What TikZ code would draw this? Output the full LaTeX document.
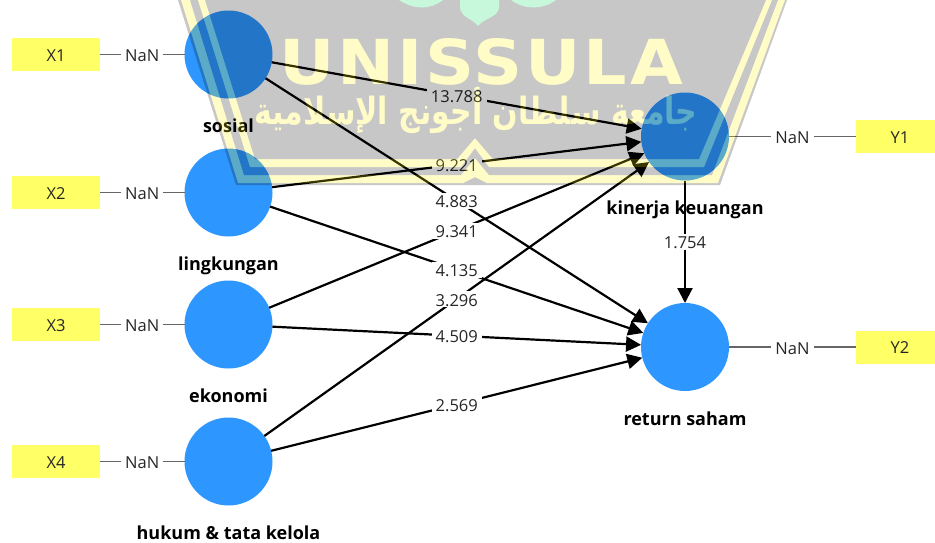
\documentclass[tikz,border=0pt]{standalone}
\usepackage{fontspec}
\setmainfont{Open Sans}
\newfontfamily\bannerfont[LetterSpace=4]{DejaVu Sans}
\newfontfamily\arabicfont[Script=Arabic]{DejaVu Sans}
\TeXXeTstate=1
\usetikzlibrary{positioning, arrows.meta}
\definecolor{lvblue}{HTML}{2E96FF}
\definecolor{itemyellow}{HTML}{FFFF66}
\definecolor{logogreen}{RGB}{0,225,90}
\tikzset{
  lv/.style={circle, fill=lvblue, minimum size=88pt, inner sep=0pt, outer sep=0pt},
  item/.style={rectangle, fill=itemyellow, minimum width=88pt, minimum height=33pt, inner sep=0pt, outer sep=0pt, font=\fontsize{16.5}{16.5}\selectfont, text height=13.5pt, text depth=0pt, text=black!85},
  lvname/.style={font=\bfseries\fontsize{18}{18}\selectfont, text height=13pt, text depth=2pt, inner sep=0pt},
  path/.style={line width=2.2pt, -{Triangle[length=15pt,width=15pt]}},
  load/.style={line width=1.4pt, black!60},
  val/.style={fill=white, inner xsep=4pt, inner ysep=1pt, font=\fontsize{16.5}{16.5}\selectfont, text height=14pt, text depth=0pt, text=black!85},
  shieldy/.style={fill=yellow},
  shieldk/.style={fill=black}
}
\begin{document}
\begin{tikzpicture}[x=1pt, y=-1pt]
  \useasboundingbox (0,0) rectangle (935,542);
  \clip (0,0) rectangle (935,542);

  % Constructs
  \node[lv] (sosial) at (228.5,54.5) {};
  \node[lv] (lingkungan) at (228.5,192.5) {};
  \node[lv] (ekonomi) at (228.5,324.5) {};
  \node[lv] (hukum) at (228.5,461.5) {};
  \node[lv] (kinerja) at (685,136.5) {};
  \node[lv] (retur) at (685,347) {};

  \node[lvname, yshift=-72.5pt] (sosialname) at (sosial) {sosial};
  \node[lvname, yshift=-72.5pt] (lingkunganname) at (lingkungan) {lingkungan};
  \node[lvname, yshift=-72.5pt] (ekonominame) at (ekonomi) {ekonomi};
  \node[lvname, yshift=-72.5pt] (hukumname) at (hukum) {hukum \& tata kelola};
  \node[lvname, yshift=-72.5pt] (kinerjaname) at (kinerja) {kinerja keuangan};
  \node[lvname, yshift=-72.5pt] (returname) at (retur) {return saham};

  % Indicators
  \node[item] (x1) at (56,54.5) {X1};
  \node[item] (x2) at (56,192.5) {X2};
  \node[item] (x3) at (56,324.5) {X3};
  \node[item] (x4) at (56,461.5) {X4};
  \node[item] (y1) at (900,136.5) {Y1};
  \node[item] (y2) at (900,347) {Y2};

  \draw[load] (x1) -- node[val] {NaN} (sosial);
  \draw[load] (x2) -- node[val] {NaN} (lingkungan);
  \draw[load] (x3) -- node[val] {NaN} (ekonomi);
  \draw[load] (x4) -- node[val] {NaN} (hukum);
  \draw[load] (kinerja) -- node[val] {NaN} (y1);
  \draw[load] (retur) -- node[val] {NaN} (y2);

  % Paths
  \draw[path] (sosial) -- node[val] {13.788} (kinerja);
  \draw[path] (sosial) -- node[val] {4.883} (retur);
  \draw[path] (lingkungan) -- node[val] {9.221} (kinerja);
  \draw[path] (lingkungan) -- node[val] {4.135} (retur);
  \draw[path] (ekonomi) -- node[val] {9.341} (kinerja);
  \draw[path] (ekonomi) -- node[val] {4.509} (retur);
  \draw[path] (hukum) -- node[val] {3.296} (kinerja);
  \draw[path] (hukum) -- node[val] {2.569} (retur);
  \draw[path] (kinerja) -- node[val] {1.754} (retur);

  % Watermark over everything
  \begin{scope}[transparency group, opacity=0.22]
    \fill[shieldk] (178,0) -- (236,185) -- (720,185) -- (787,0) -- cycle;
    \fill[shieldy] (181,0) -- (238,183) -- (463,183) -- (475,177) -- (487,183) -- (718,183) -- (785,0) -- cycle;
    \fill[shieldk] (190,0) -- (244,175) -- (461,175) -- (475,158) -- (489,175) -- (712,175) -- (778,0) -- cycle;
    \fill[shieldy] (198,0) -- (250,167) -- (461,167) -- (475,148) -- (489,167) -- (704,167) -- (772,0) -- cycle;
    \fill[shieldk] (205,0) -- (255,159) -- (457,159) -- (475,138) -- (493,159) -- (699,159) -- (766,0) -- cycle;
    \fill[fill=logogreen] (460,0) -- (460,8) .. controls (462,18) and (472,18) .. (478,26) .. controls (484,18) and (497,18) .. (499,8) -- (499,0) -- cycle;
    \fill[fill=logogreen] (399,0) .. controls (415,10) and (430,10) .. (443,0) -- cycle;
    \fill[fill=logogreen] (511,0) .. controls (525,10) and (542,10) .. (556,0) -- cycle;
    \node[inner sep=0pt, text=yellow, font=\bannerfont\bfseries\fontsize{62}{62}\selectfont, xscale=1.1, transform shape] (banner) at (481,62) {UNISSULA};
    \node[inner sep=0pt, text=yellow, font=\arabicfont\bfseries\fontsize{30}{30}\selectfont, yscale=1.25, transform shape] (arabic) at (476,110) {\beginR جامعة سلطان أجونج الإسلامية\endR};
  \end{scope}
\end{tikzpicture}
\end{document}
